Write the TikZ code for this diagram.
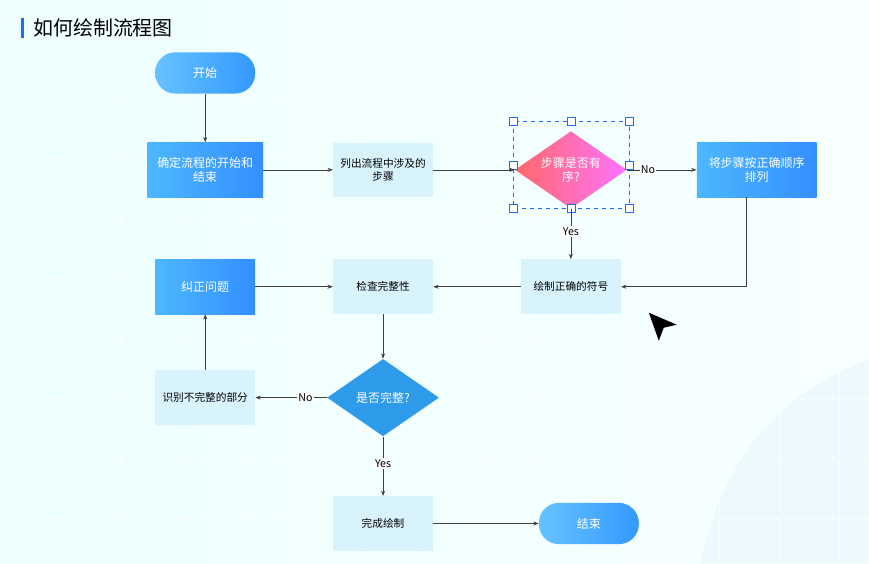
\documentclass[tikz,border=0pt]{standalone}
\usepackage{fontspec}
\setmainfont{Noto Sans CJK SC}
\usetikzlibrary{positioning, arrows.meta, shapes.geometric}
\definecolor{selblue}{HTML}{1E6FE8}
\definecolor{askblue}{HTML}{2E9BEA}

\begin{document}
\begin{tikzpicture}[x=0.75pt, y=-0.75pt, font=\fontsize{8}{10}\selectfont,
    bluebox/.style = {draw=none, left color=cyan!60!blue!70, right color=blue!55!cyan!80, text=white,
        minimum width=75pt, minimum height=41pt, inner sep=1pt, align=center, font=\fontsize{9}{11}\selectfont},
    light/.style = {fill=cyan!15, minimum width=75pt, minimum height=41pt, inner sep=1pt, align=center},
    pill/.style = {draw=none, rounded corners=15pt, left color=cyan!60!blue!60, right color=blue!50!cyan!80,
        text=white, minimum width=75pt, minimum height=31pt, font=\fontsize{9}{11}\selectfont},
    ask/.style = {diamond, aspect=1.45, inner sep=0pt, minimum width=84pt, minimum height=58pt, align=center,
        text=white, font=\fontsize{9}{11}\selectfont},
    line/.style = {draw=black!75, thin, -{Stealth[length=4pt, width=3pt]}},
    grab/.style = {draw=selblue, fill=white, thin, minimum size=6pt, inner sep=0pt}]

% background
\shade[left color=cyan!7, right color=white!97!cyan] (0,0) rectangle (869,564);
\fill[cyan!10, opacity=0.6] (869,360) .. controls (760,400) and (720,480) .. (700,564) -- (869,564) -- cycle;
\foreach \x in {60,120,...,840} \draw[white, dashed, line width=0.6pt] (\x,60) -- (\x,564);
\foreach \y in {100,160,...,560} \draw[white, dashed, line width=0.6pt] (0,\y) -- (869,\y);
\useasboundingbox (0,0) rectangle (869,564);

% title
\fill[selblue] (21,18) rectangle (24,38);
\node[anchor=west, font=\fontsize{15}{17}\selectfont] (title) at (28,28) {如何绘制流程图};

\node[pill] (start) at (205,73) {开始};
\node[bluebox, minimum width=87pt] (define) at (205,170) {确定流程的开始和\\结束};
\node[light] (list) at (383,170) {列出流程中涉及的\\步骤};
\node[ask, left color=red!45!pink, right color=magenta!55] (order) at (571,170) {步骤是否有\\序?};
\node[bluebox, minimum width=90pt] (sort) at (757,170) {将步骤按正确顺序\\排列};
\node[light] (symbol) at (571,287) {绘制正确的符号};
\node[light] (check) at (383,287) {检查完整性};
\node[bluebox] (fix) at (205,287) {纠正问题};
\node[ask, fill=askblue] (done) at (383,398) {是否完整?};
\node[light] (find) at (205,398) {识别不完整的部分};
\node[light] (finish) at (383,524) {完成绘制};
\node[pill] (end) at (589,524) {结束};

% selection frame
\draw[selblue, dashed, thin] (513,121) rectangle (629,208);
\foreach \px/\py in {513/121,571/121,629/121,513/165,629/165,513/208,571/208,629/208}
    \node[grab] at (\px,\py) {};

\draw[line] (start) -- (define);
\draw[line] (define) -- (list);
\draw[line] (list) -- (order);
\draw[line] (order) -- node[fill=white, inner sep=1pt, pos=0.3] {No} (sort);
\draw[line] (order) -- node[fill=white, inner sep=1pt, pos=0.45] {Yes} (symbol);
\draw[line] (sort.south -| 747,0) |- (symbol);
\draw[line] (symbol) -- (check);
\draw[line] (check) -- (done);
\draw[line] (done) -- node[fill=white, inner sep=1pt, pos=0.3] {No} (find);
\draw[line] (find) -- (fix);
\draw[line] (fix) -- (check);
\draw[line] (done) -- node[fill=white, inner sep=1pt, pos=0.45] {Yes} (finish);
\draw[line] (finish) -- (end);

% cursor
\fill[black] (649,313) -- (677,325) -- (664,328) -- (659,341) -- cycle;
\end{tikzpicture}
\end{document}
